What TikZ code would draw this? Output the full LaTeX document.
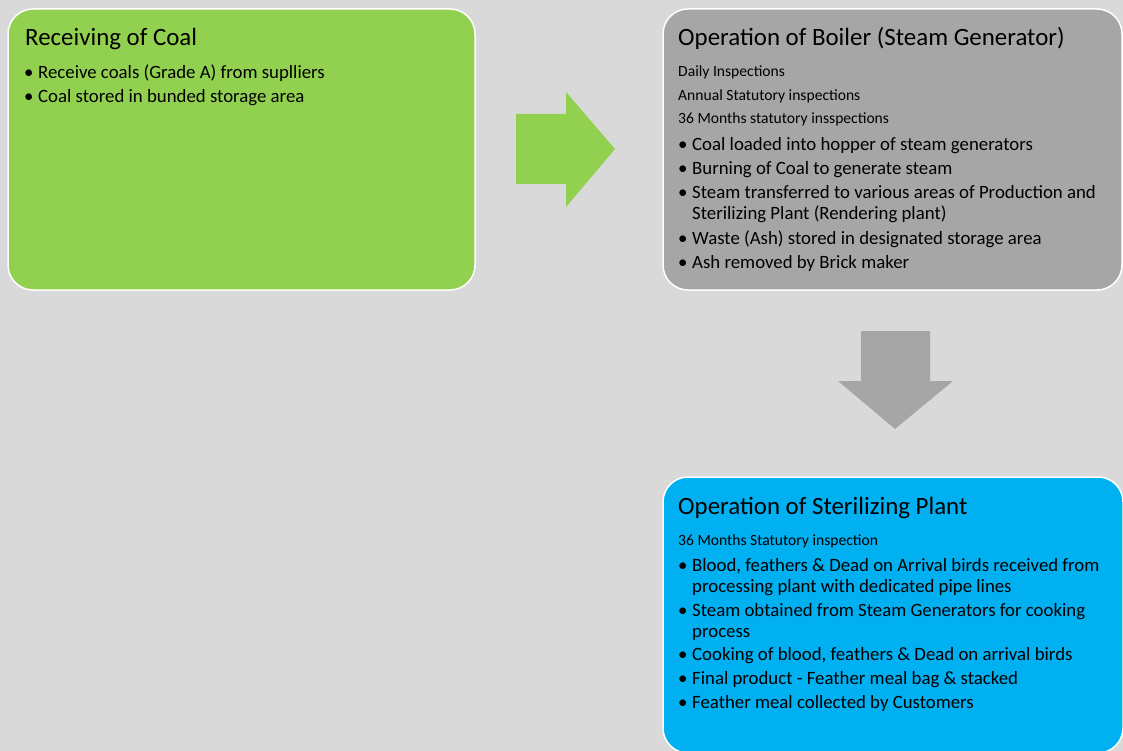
\documentclass[tikz,border=0pt]{standalone}
\usepackage{fontspec}
\setmainfont{Carlito}
\usetikzlibrary{positioning}

\definecolor{bggray}{HTML}{D9D9D9}
\definecolor{coalgreen}{HTML}{92D050}
\definecolor{boilergray}{HTML}{A6A6A6}
\definecolor{plantblue}{HTML}{00B0F0}

\tikzset{
  panel/.style={draw=white, line width=1.5pt, rounded corners=25pt},
  heading/.style={anchor=base west, inner sep=0pt, font=\fontsize{24.9}{29}\selectfont},
  note/.style={anchor=base west, inner sep=0pt, font=\fontsize{15.6}{18}\selectfont},
  entry/.style={anchor=base west, inner sep=0pt, font=\fontsize{18.8}{21}\selectfont},
}

\begin{document}
\begin{tikzpicture}[x=1pt, y=-1pt]
\useasboundingbox (0,0) rectangle (1123,751);
\clip (0,0) rectangle (1123,751);
\fill[bggray] (0,0) rectangle (1123,751);

% panels
\draw[panel, fill=coalgreen] (8,9) rectangle (475,290);
\draw[panel, fill=boilergray] (663,9) rectangle (1122,290);
\draw[panel, fill=plantblue] (663,477) rectangle (1123,753);

% block arrows
\fill[coalgreen] (516,114) -- (566,114) -- (566,92) -- (615,149) -- (566,207) -- (566,184) -- (516,184) -- cycle;
\fill[boilergray] (861,331) -- (930,331) -- (930,381) -- (953,381) -- (895,429) -- (838,381) -- (861,381) -- cycle;

% receiving of coal
\node[heading] (coalT) at (25,46) {Receiving of Coal};
\node[entry] (coalD1) at (24,79) {\textbullet};
\node[entry] (coal1) at (38,79) {Receive coals (Grade A) from suplliers};
\node[entry] (coalD2) at (24,103) {\textbullet};
\node[entry] (coal2) at (38,103) {Coal stored in bunded storage area};

% boiler
\node[heading] (boilT) at (678,46) {Operation of Boiler (Steam Generator)};
\node[note] (boilN1) at (678,77) {Daily Inspections};
\node[note] (boilN2) at (678,101) {Annual Statutory inspections};
\node[note] (boilN3) at (678,124) {36 Months statutory insspections};
\node[entry] (boilD1) at (678,151) {\textbullet};
\node[entry] (boil1) at (692,151) {Coal loaded into hopper of steam generators};
\node[entry] (boilD2) at (678,175) {\textbullet};
\node[entry] (boil2) at (692,175) {Burning of Coal to generate steam};
\node[entry] (boilD3) at (678,199) {\textbullet};
\node[entry] (boil3) at (692,199) {Steam transferred to various areas of Production and};
\node[entry] (boil3b) at (692,220) {Sterilizing Plant (Rendering plant)};
\node[entry] (boilD4) at (678,244) {\textbullet};
\node[entry] (boil4) at (692,244) {Waste (Ash) stored in designated storage area};
\node[entry] (boilD5) at (678,268) {\textbullet};
\node[entry] (boil5) at (692,268) {Ash removed by Brick maker};

% sterilizing plant
\node[heading] (plantT) at (678,514) {Operation of Sterilizing Plant};
\node[note] (plantN1) at (678,545) {36 Months Statutory inspection};
\node[entry] (plantD1) at (678,571) {\textbullet};
\node[entry] (plant1) at (692,571) {Blood, feathers \& Dead on Arrival birds received from};
\node[entry] (plant1b) at (692,592) {processing plant with dedicated pipe lines};
\node[entry] (plantD2) at (678,616) {\textbullet};
\node[entry] (plant2) at (692,616) {Steam obtained from Steam Generators for cooking};
\node[entry] (plant2b) at (692,637) {process};
\node[entry] (plantD3) at (678,660) {\textbullet};
\node[entry] (plant3) at (692,660) {Cooking of blood, feathers \& Dead on arrival birds};
\node[entry] (plantD4) at (678,684) {\textbullet};
\node[entry] (plant4) at (692,684) {Final product - Feather meal bag \& stacked};
\node[entry] (plantD5) at (678,708) {\textbullet};
\node[entry] (plant5) at (692,708) {Feather meal collected by Customers};

\end{tikzpicture}
\end{document}
